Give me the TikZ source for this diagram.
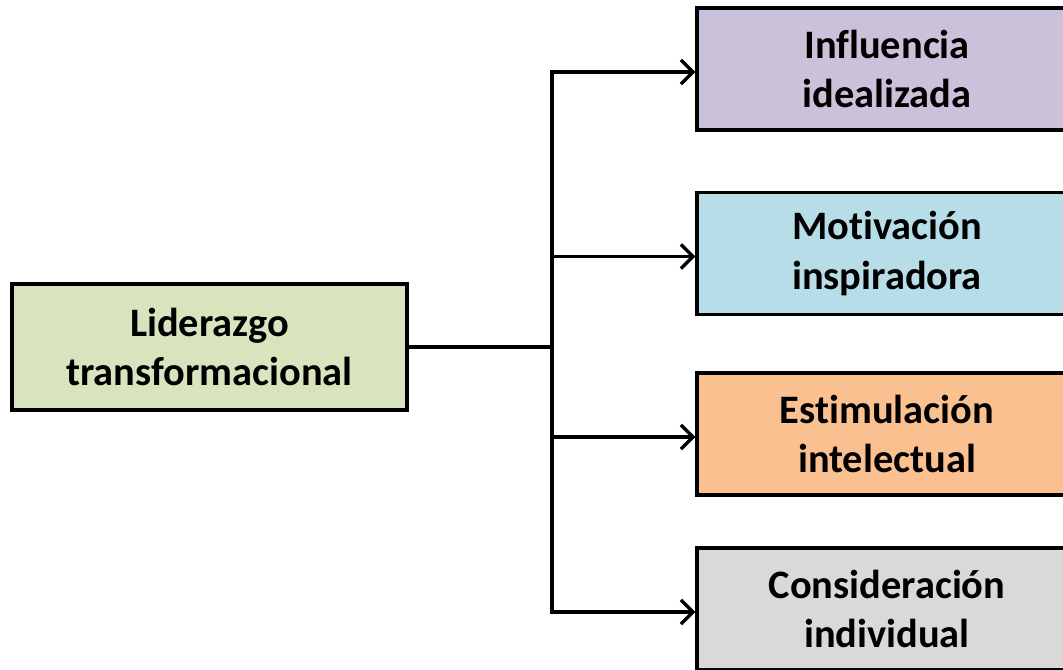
\documentclass[tikz,border=0pt]{standalone}
\usepackage{fontspec}
\setmainfont[Ligatures=NoCommon]{Carlito}
\usepackage{xcolor}
\usepackage{tikz}
\usetikzlibrary{arrows.meta, positioning, calc, shadows}
\definecolor{rootgreen}{HTML}{D7E4BD}
\definecolor{dimpurple}{HTML}{CCC1DA}
\definecolor{dimblue}{HTML}{B7DEE8}
\definecolor{dimorange}{HTML}{FAC090}
\definecolor{dimgray}{HTML}{D9D9D9}
\tikzset{
    rootbox/.style={
        rectangle, minimum width=7.9cm, minimum height=2.52cm,
        align=center, draw=black, line width=1.9pt, fill=rootgreen,
        drop shadow={opacity=0.2, shadow xshift=0.04cm, shadow yshift=-0.04cm},
        font=\fontsize{23}{28}\selectfont\bfseries
    },
    dimbox/.style={
        rectangle, minimum width=7.6cm, minimum height=2.44cm,
        align=center, draw=black, line width=1.9pt,
        drop shadow={opacity=0.2, shadow xshift=0.04cm, shadow yshift=-0.04cm},
        font=\fontsize{23}{28}\selectfont\bfseries
    },
    straightline/.style={line width=2.2pt, -},
    arrow/.style={line width=2.2pt, -{Straight Barb[length=2.4mm, width=4.8mm, line width=1.9pt]}}
}
\begin{document}
\begin{tikzpicture}
        \useasboundingbox (0,0) rectangle (21.26,13.4);
        % root and the four dimensions
        \node [rootbox] (lider) at (4.19,6.46) {Liderazgo\\transformacional};
        \node [dimbox, fill=dimpurple] (infl) at (17.74,12.02) {Influencia\\idealizada};
        \node [dimbox, fill=dimblue] (motiv) at (17.74,8.33) {Motivación\\inspiradora};
        \node [dimbox, fill=dimorange] (estim) at (17.74,4.72) {Estimulación\\intelectual};
        \node [dimbox, fill=dimgray] (consid) at (17.74,1.22) {Consideración\\individual};
        \coordinate (split) at (11.04,6.46);

        \draw [straightline] (lider.east) -- (split);
        \foreach \n in {infl, motiv, estim, consid}
            \draw [arrow] (split) |- ([yshift=-0.06cm]\n.west);
\end{tikzpicture}
\end{document}
